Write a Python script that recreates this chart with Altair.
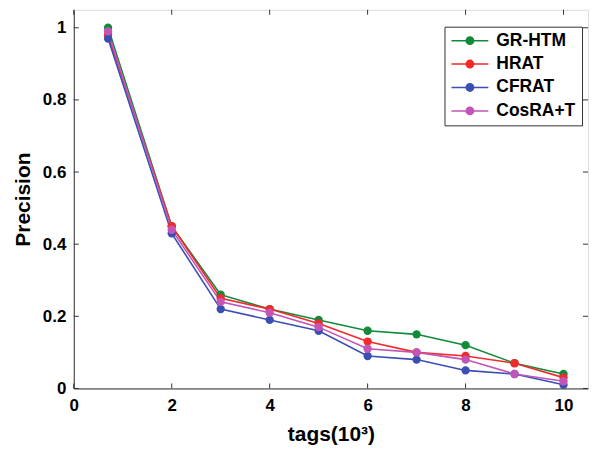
import altair as alt
import pandas as pd

tags = [0.7, 2, 3, 4, 5, 6, 7, 8, 9, 10]
series_names = ["GR-HTM", "HRAT", "CFRAT", "CosRA+T"]
gr_htm = [1.00, 0.45, 0.26, 0.22, 0.19, 0.16, 0.15, 0.12, 0.07, 0.04]
hrat = [0.98, 0.45, 0.25, 0.22, 0.18, 0.13, 0.10, 0.09, 0.07, 0.03]
cfrat = [0.97, 0.43, 0.22, 0.19, 0.16, 0.09, 0.08, 0.05, 0.04, 0.01]
cosra = [0.99, 0.44, 0.24, 0.21, 0.17, 0.11, 0.10, 0.08, 0.04, 0.02]
colors = ["#13893a", "#f22a2a", "#3b4fb2", "#c255b6"]

x_ticks = [0, 2, 4, 6, 8, 10]
y_ticks = [0, 0.2, 0.4, 0.6, 0.8, 1.0]
X_MAX = 10.5
Y_MAX = 1.05

rows = []
for name, vals in zip(series_names, [gr_htm, hrat, cfrat, cosra]):
    for t, v in zip(tags, vals):
        rows.append({"tags": t, "precision": v, "method": name})
df = pd.DataFrame(rows)

W, H = 516, 380
FONT = "Liberation Sans"
xscale = alt.Scale(domain=[0, X_MAX], nice=False, zero=True)
yscale = alt.Scale(domain=[0, Y_MAX], nice=False)
color = alt.Color(
    "method:N",
    scale=alt.Scale(domain=series_names, range=colors),
    sort=series_names,
    legend=alt.Legend(
        title=None,
        orient="none",
        legendX=372,
        legendY=17,
        strokeColor="#333333",
        fillColor="white",
        padding=6,
        labelFont=FONT,
        labelFontSize=17.5,
        labelFontWeight="bold",
        labelColor="black",
        symbolType="M-1,0 L1,0 M-0.2,0 A0.2,0.2 0 1,0 0.2,0 A0.2,0.2 0 1,0 -0.2,0 Z",
        symbolSize=1370,
        symbolStrokeWidth=1.5,
        clipHeight=16,
        rowPadding=5.5,
        labelOffset=7,
    ),
)

base = alt.Chart(df)
lines = base.mark_line(strokeWidth=1.6).encode(
    x=alt.X("tags:Q", scale=xscale,
            axis=alt.Axis(values=x_ticks, title="tags(10³)", grid=False, ticks=False,
                          labelFont=FONT, labelFontSize=17, labelFontWeight="bold",
                          labelColor="black", titleFont=FONT, titleFontSize=21,
                          titleFontWeight="bold", titleColor="black", domainColor="#333",
                          labelPadding=9, titlePadding=10, labelFlush=False)),
    y=alt.Y("precision:Q", scale=yscale,
            axis=alt.Axis(values=y_ticks, title="Precision", grid=False, ticks=False,
                          labelFont=FONT, labelFontSize=17, labelFontWeight="bold",
                          labelColor="black", titleFont=FONT, titleFontSize=21,
                          titleFontWeight="bold", titleColor="black", domainColor="#333",
                          labelPadding=8, titlePadding=9, labelFlush=False,
                          labelExpr="datum.value == 0 ? '0' : format(datum.value, '.1~f')")),
    color=color,
    order=alt.Order("tags:Q"),
)
points = base.mark_point(filled=True, size=70, opacity=1).encode(
    x=alt.X("tags:Q", scale=xscale),
    y=alt.Y("precision:Q", scale=yscale),
    color=alt.Color("method:N", scale=alt.Scale(domain=series_names, range=colors), legend=None),
)

# inward tick marks (MATLAB style box)
tx = pd.DataFrame({"v": x_ticks})
ty = pd.DataFrame({"v": y_ticks})
tick_style = dict(color="#333", strokeWidth=1)
xt_bottom = alt.Chart(tx).mark_rule(**tick_style).encode(
    x=alt.X("v:Q", scale=xscale), y=alt.value(H), y2=alt.value(H - 5))
xt_top = alt.Chart(tx).mark_rule(**tick_style).encode(
    x=alt.X("v:Q", scale=xscale), y=alt.value(0), y2=alt.value(5))
yt_left = alt.Chart(ty).mark_rule(**tick_style).encode(
    y=alt.Y("v:Q", scale=yscale), x=alt.value(0), x2=alt.value(5))
yt_right = alt.Chart(ty).mark_rule(**tick_style).encode(
    y=alt.Y("v:Q", scale=yscale), x=alt.value(W), x2=alt.value(W - 5))

chart = alt.layer(xt_bottom, xt_top, yt_left, yt_right, lines, points).properties(
    width=W, height=H, padding={"left": 4, "top": 0, "right": 0, "bottom": 0}
).configure_view(stroke="#333", strokeWidth=1).configure(background="white")

chart.save("out.html", embed_options={"renderer": "svg", "actions": False})
